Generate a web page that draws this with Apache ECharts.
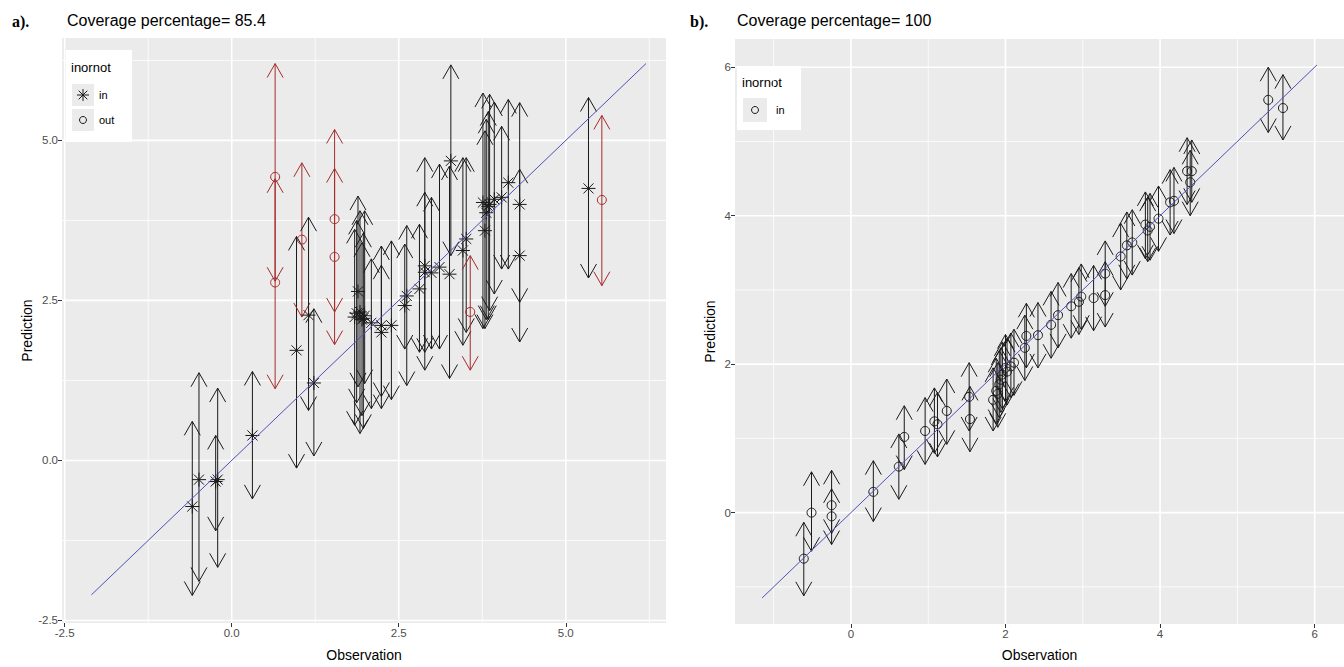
<!DOCTYPE html>
<html><head><meta charset="utf-8">
<script src="https://cdn.jsdelivr.net/npm/echarts@6/dist/echarts.min.js"></script>
<style>html,body{margin:0;padding:0;background:#fff;}#chart{width:1344px;height:667px;}</style>
</head><body><div id="chart"></div>
<script>
// ---------- Panel a data ----------
const obsA  = [-0.59,-0.49,-0.24,-0.21,0.31,0.65,0.65,0.97,1.05,1.15,1.23,1.54,1.54,1.84,1.87,1.89,1.92,1.95,1.97,1.99,2.09,2.24,2.24,2.39,2.59,2.62,2.81,2.89,2.89,2.99,3.11,3.26,3.28,3.46,3.51,3.57,3.76,3.79,3.81,3.84,3.86,3.93,4.04,4.14,4.31,4.31,5.34,5.54];
const predA = [-0.72,-0.30,-0.33,-0.30,0.39,4.43,2.78,1.72,3.45,2.27,1.21,3.77,3.18,2.24,2.30,2.64,2.32,2.20,2.22,2.26,2.15,2.11,2.00,2.11,2.42,2.57,2.68,3.04,2.94,2.93,3.02,2.91,4.68,3.28,3.46,2.32,4.03,3.59,3.87,3.97,4.00,4.08,4.11,4.34,4.00,3.20,4.25,4.07];
const lowA  = [-2.11,-1.89,-1.10,-1.67,-0.60,2.80,1.12,-0.12,2.24,0.78,0.07,2.32,1.81,0.55,0.90,1.15,0.42,0.70,0.50,1.20,0.81,0.81,1.00,0.95,1.74,1.17,1.69,1.41,1.69,1.74,1.74,1.28,3.20,1.80,2.00,1.41,2.06,2.06,2.20,2.20,2.34,2.60,2.99,2.99,2.47,1.85,2.85,2.73];
const upA   = [0.61,1.37,0.39,1.13,1.39,6.20,4.40,3.50,4.65,3.80,2.37,5.17,4.56,3.61,3.75,4.13,3.90,3.40,3.55,3.90,3.15,3.35,3.05,3.43,3.38,3.67,3.69,4.73,4.19,4.11,4.63,4.60,6.18,4.73,4.73,3.20,5.74,5.15,5.33,5.45,5.72,5.60,5.22,5.64,5.59,4.55,5.67,5.39];
const refLineA = [-2.1, 6.2];
const xMajorA = [-2.5, 0, 2.5, 5];
const xMinorA = [-1.25, 1.25, 3.75, 6.25];
const yMajorA = [-2.5, 0, 2.5, 5];
const yMinorA = [-1.25, 1.25, 3.75, 6.25];

// ---------- Panel b data ----------
const obsB  = [-0.61,-0.51,-0.25,-0.25,0.29,0.62,0.69,0.96,1.08,1.12,1.24,1.53,1.54,1.84,1.88,1.90,1.92,1.94,1.96,2.00,2.02,2.07,2.11,2.25,2.27,2.42,2.59,2.68,2.85,2.95,2.98,3.14,3.29,3.29,3.49,3.57,3.64,3.81,3.84,3.87,3.98,4.13,4.18,4.35,4.41,4.39,5.40,5.59];
const predB = [-0.62,0.00,0.10,-0.05,0.28,0.62,1.02,1.10,1.23,1.19,1.37,1.56,1.26,1.52,1.64,1.60,1.73,1.79,1.86,1.95,1.90,1.97,2.02,2.22,2.38,2.39,2.53,2.66,2.78,2.84,2.91,2.89,2.93,3.22,3.45,3.60,3.64,3.88,3.80,3.85,3.96,4.18,4.20,4.60,4.60,4.45,5.56,5.45];
const lowB  = [-1.12,-0.52,-0.28,-0.43,-0.12,0.18,0.58,0.65,0.80,0.75,0.92,1.10,0.82,1.10,1.20,1.15,1.28,1.35,1.40,1.50,1.45,1.55,1.58,1.78,1.95,1.95,2.08,2.22,2.35,2.40,2.47,2.45,2.50,2.78,3.00,3.15,3.20,3.42,3.38,3.40,3.52,3.74,3.76,4.15,4.18,4.00,5.12,5.02];
const upB   = [-0.13,0.55,0.57,0.32,0.70,1.06,1.44,1.55,1.68,1.62,1.80,2.02,1.70,1.95,2.08,2.02,2.18,2.22,2.30,2.40,2.35,2.42,2.47,2.66,2.82,2.83,2.98,3.10,3.22,3.30,3.35,3.33,3.38,3.66,3.90,4.05,4.08,4.32,4.25,4.30,4.40,4.62,4.65,5.05,5.02,4.88,6.00,5.90];
const refLineB = [-1.15, 6.03];
const xMajorB = [0, 2, 4, 6];
const xMinorB = [-1, 1, 3, 5];
const yMajorB = [0, 2, 4, 6];
const yMinorB = [-1, 1, 3, 5];

const titles = ['a).', 'Coverage percentage= 85.4', 'b).', 'Coverage percentage= 100'];
const legendTitle = 'inornot';
const legendLevels = ['in', 'out'];

// ---------- styling ----------
const FONT = 'Liberation Sans, Arial, sans-serif';
const BLACK = '#1a1a1a';
const RED = '#A52A2A';
const BLUE = '#5050B8';
const PANEL = '#EBEBEB';

const chart = echarts.init(document.getElementById('chart'), null, {renderer: 'svg'});

function asteriskEls(cx, cy, r, color) {
  const d = r * 0.72;
  const st = {stroke: color, lineWidth: 1, fill: null};
  return [
    {type: 'line', shape: {x1: cx - r, y1: cy, x2: cx + r, y2: cy}, style: st},
    {type: 'line', shape: {x1: cx, y1: cy - r, x2: cx, y2: cy + r}, style: st},
    {type: 'line', shape: {x1: cx - d, y1: cy - d, x2: cx + d, y2: cy + d}, style: st},
    {type: 'line', shape: {x1: cx - d, y1: cy + d, x2: cx + d, y2: cy - d}, style: st}
  ];
}

function makeIntervalRender(panel) {
  return function (params, api) {
    const x = api.value(0), p = api.value(1), lo = api.value(2), hi = api.value(3);
    const out = !(x >= lo && x <= hi);
    const color = out ? RED : BLACK;
    const P = api.coord([x, p]), L = api.coord([x, lo]), H = api.coord([x, hi]);
    const ah = 14, aw = 8;
    const st = {stroke: color, lineWidth: 1, fill: null};
    const children = [
      {type: 'line', shape: {x1: L[0], y1: L[1], x2: H[0], y2: H[1]}, style: st},
      {type: 'polyline', shape: {points: [[H[0] - aw, H[1] + ah], [H[0], H[1]], [H[0] + aw, H[1] + ah]]}, style: st},
      {type: 'polyline', shape: {points: [[L[0] - aw, L[1] - ah], [L[0], L[1]], [L[0] + aw, L[1] - ah]]}, style: st}
    ];
    if (panel === 'a' && !out) {
      asteriskEls(P[0], P[1], 7, color).forEach(e => children.push(e));
    } else {
      children.push({type: 'circle', shape: {cx: P[0], cy: P[1], r: 4.5}, style: {stroke: color, lineWidth: 1, fill: 'none'}});
    }
    return {type: 'group', children};
  };
}

function gridRender(params, api) {
  const v = api.value(0), dir = api.value(1), major = api.value(2);
  const cs = params.coordSys;
  const st = {stroke: '#FFFFFF', lineWidth: major ? 1.6 : 0.8};
  if (dir === 0) {
    const px = api.coord([v, 0])[0];
    return {type: 'line', shape: {x1: px, y1: cs.y, x2: px, y2: cs.y + cs.height}, style: st};
  } else {
    const py = api.coord([0, v])[1];
    return {type: 'line', shape: {x1: cs.x, y1: py, x2: cs.x + cs.width, y2: py}, style: st};
  }
}

function gridData(xMaj, xMin, yMaj, yMin) {
  const d = [];
  xMin.forEach(v => d.push([v, 0, 0]));
  yMin.forEach(v => d.push([v, 1, 0]));
  xMaj.forEach(v => d.push([v, 0, 1]));
  yMaj.forEach(v => d.push([v, 1, 1]));
  return d;
}

function axisCommon(vals, fmt, name, gap) {
  return {
    type: 'value',
    splitLine: {show: false},
    axisLine: {show: false, onZero: false},
    axisTick: {show: true, length: 4, customValues: vals, lineStyle: {color: '#333333', width: 1}},
    axisLabel: {customValues: vals, formatter: fmt, color: '#4D4D4D', fontSize: 11.5, fontFamily: FONT, margin: 4},
    name: name, nameLocation: 'middle', nameGap: gap,
    nameTextStyle: {color: '#000000', fontSize: 14, fontFamily: FONT}
  };
}

const fmtA = v => Number(v).toFixed(1);
const fmtB = v => String(Math.round(v));

const intervalsA = obsA.map((o, i) => [o, predA[i], lowA[i], upA[i]]);
const intervalsB = obsB.map((o, i) => [o, predB[i], lowB[i], upB[i]]);

const legendGraphics = [];
// Titles
legendGraphics.push({type: 'text', left: 12, top: 13, style: {text: titles[0], font: 'bold 16px Liberation Serif, Times New Roman, serif', fill: '#000'}});
legendGraphics.push({type: 'text', left: 67, top: 12, style: {text: titles[1], font: '16px ' + FONT, fill: '#000'}});
legendGraphics.push({type: 'text', left: 690, top: 13, style: {text: titles[2], font: 'bold 16px Liberation Serif, Times New Roman, serif', fill: '#000'}});
legendGraphics.push({type: 'text', left: 737, top: 12, style: {text: titles[3], font: '16px ' + FONT, fill: '#000'}});
// Legend a
legendGraphics.push({type: 'rect', shape: {x: 66, y: 50, width: 66, height: 92}, style: {fill: '#FFFFFF'}});
legendGraphics.push({type: 'text', x: 71, y: 61, style: {text: legendTitle, font: '13px ' + FONT, fill: '#000'}});
legendGraphics.push({type: 'rect', shape: {x: 72, y: 84, width: 22, height: 22}, style: {fill: PANEL}});
legendGraphics.push({type: 'rect', shape: {x: 72, y: 109, width: 22, height: 22}, style: {fill: PANEL}});
legendGraphics.push({type: 'group', children: asteriskEls(83, 95, 6, BLACK)});
legendGraphics.push({type: 'circle', shape: {cx: 83, cy: 120, r: 3.5}, style: {stroke: BLACK, fill: 'none', lineWidth: 1}});
legendGraphics.push({type: 'text', x: 99, y: 89, style: {text: legendLevels[0], font: '11px ' + FONT, fill: '#000'}});
legendGraphics.push({type: 'text', x: 99, y: 114, style: {text: legendLevels[1], font: '11px ' + FONT, fill: '#000'}});
// Legend b
legendGraphics.push({type: 'rect', shape: {x: 737, y: 66, width: 64, height: 64}, style: {fill: '#FFFFFF'}});
legendGraphics.push({type: 'text', x: 742, y: 76, style: {text: legendTitle, font: '13px ' + FONT, fill: '#000'}});
legendGraphics.push({type: 'rect', shape: {x: 743, y: 98, width: 24, height: 24}, style: {fill: PANEL}});
legendGraphics.push({type: 'circle', shape: {cx: 755, cy: 110, r: 3.5}, style: {stroke: BLACK, fill: 'none', lineWidth: 1}});
legendGraphics.push({type: 'text', x: 776, y: 104, style: {text: legendLevels[0], font: '11px ' + FONT, fill: '#000'}});

const option = {
  animation: false,
  backgroundColor: '#FFFFFF',
  textStyle: {fontFamily: FONT},
  grid: [
    {left: 62, top: 38, width: 604, height: 587, show: true, backgroundColor: PANEL, borderWidth: 0},
    {left: 735, top: 39, width: 620, height: 589, show: true, backgroundColor: PANEL, borderWidth: 0}
  ],
  xAxis: [
    Object.assign(axisCommon(xMajorA, fmtA, 'Observation', 25), {gridIndex: 0, min: -2.54, max: 6.5}),
    Object.assign(axisCommon(xMajorB, fmtB, 'Observation', 24), {gridIndex: 1, min: -1.5, max: 6.38})
  ],
  yAxis: [
    Object.assign(axisCommon(yMajorA, fmtA, 'Prediction', 28), {gridIndex: 0, min: -2.54, max: 6.6}),
    Object.assign(axisCommon(yMajorB, fmtB, 'Prediction', 18), {gridIndex: 1, min: -1.5, max: 6.38})
  ],
  series: [
    {type: 'custom', xAxisIndex: 0, yAxisIndex: 0, renderItem: gridRender, data: gridData(xMajorA, xMinorA, yMajorA, yMinorA), silent: true, z: 1, clip: false, encode: {x: 0, y: 1}},
    {type: 'custom', xAxisIndex: 1, yAxisIndex: 1, renderItem: gridRender, data: gridData(xMajorB, xMinorB, yMajorB, yMinorB), silent: true, z: 1, clip: false, encode: {x: 0, y: 1}},
    {type: 'custom', xAxisIndex: 0, yAxisIndex: 0, renderItem: makeIntervalRender('a'), data: intervalsA, z: 3, clip: true, encode: {x: 0, y: 1}},
    {type: 'custom', xAxisIndex: 1, yAxisIndex: 1, renderItem: makeIntervalRender('b'), data: intervalsB, z: 3, clip: true, encode: {x: 0, y: 1}},
    {type: 'line', xAxisIndex: 0, yAxisIndex: 0, data: [[refLineA[0], refLineA[0]], [refLineA[1], refLineA[1]]], symbol: 'none', lineStyle: {color: BLUE, width: 1}, z: 4, silent: true},
    {type: 'line', xAxisIndex: 1, yAxisIndex: 1, data: [[refLineB[0], refLineB[0]], [refLineB[1], refLineB[1]]], symbol: 'none', lineStyle: {color: BLUE, width: 1}, z: 4, silent: true}
  ],
  graphic: legendGraphics
};
chart.setOption(option);
</script>
</body></html>
